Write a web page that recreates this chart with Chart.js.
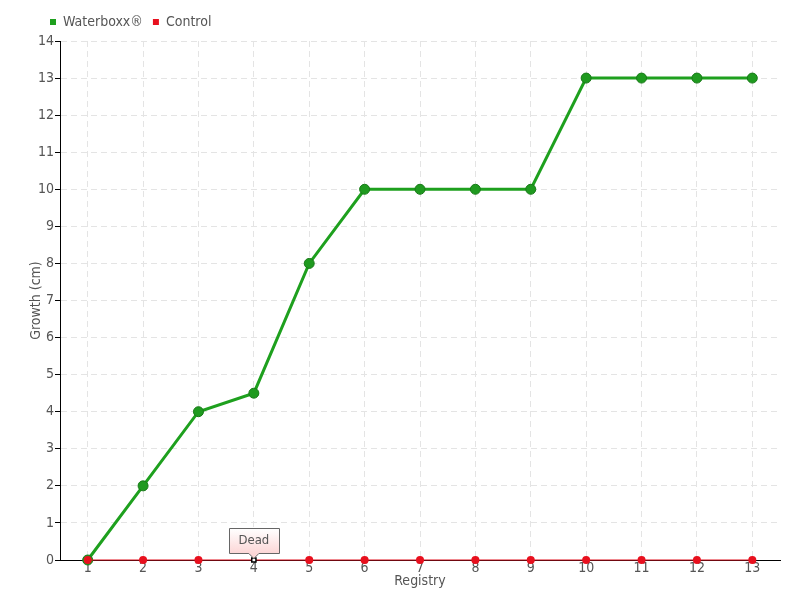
<!DOCTYPE html>
<html>
<head>
<meta charset="utf-8">
<script src="https://cdn.jsdelivr.net/npm/chart.js@4/dist/chart.umd.min.js"></script>
<style>
  html, body { margin: 0; padding: 0; background: #fff; }
  #wrap { width: 800px; height: 600px; }
</style>
</head>
<body>
<div id="wrap"><canvas id="chart" width="800" height="600"></canvas></div>
<script>
// data
const registries = ['1', '2', '3', '4', '5', '6', '7', '8', '9', '10', '11', '12', '13'];
const waterboxx = [0, 2, 4, 4.5, 8, 10, 10, 10, 10, 13, 13, 13, 13];
const control = [0, 0, 0, 0, 0, 0, 0, 0, 0, 0, 0, 0, 0];
const deadIndex = 3; // 'Dead' note on control at registry 4

const FONT = '"DejaVu Sans Condensed", "Liberation Sans Narrow", sans-serif';
const TEXT = '#555';

// control point styles, the dead one is a small white square
const controlStyle = control.map((_, i) => i === deadIndex ? 'rect' : 'circle');
const controlFill = control.map((_, i) => i === deadIndex ? '#fff' : '#e8101e');
const controlBorder = control.map((_, i) => i === deadIndex ? '#000' : '#e8101e');
const controlRadius = control.map((_, i) => i === deadIndex ? 3 : 4);
const controlBorderW = control.map((_, i) => i === deadIndex ? 1.5 : 0);

// draw the 'Dead' callout above the marked point
const deadNote = {
  id: 'deadNote',
  afterDatasetsDraw(chart) {
    const ctx = chart.ctx;
    const x = chart.scales.x.getPixelForValue(deadIndex);
    const y = chart.scales.y.getPixelForValue(control[deadIndex]);
    const w = 50, h = 25;
    const left = Math.round(x - w / 2) + 0.5, top = Math.round(y - 32) + 0.5;
    ctx.save();
    const g = ctx.createLinearGradient(0, top, 0, top + h);
    g.addColorStop(0, '#fff');
    g.addColorStop(1, '#fcd6d6');
    ctx.beginPath();
    ctx.moveTo(left, top);
    ctx.lineTo(left + w, top);
    ctx.lineTo(left + w, top + h);
    ctx.lineTo(x + 5, top + h);
    ctx.lineTo(x, top + h + 5);
    ctx.lineTo(x - 5, top + h);
    ctx.lineTo(left, top + h);
    ctx.closePath();
    ctx.fillStyle = g;
    ctx.fill();
    ctx.strokeStyle = '#666';
    ctx.lineWidth = 1;
    ctx.stroke();
    ctx.fillStyle = TEXT;
    ctx.font = '13px ' + FONT;
    ctx.textAlign = 'center';
    ctx.textBaseline = 'middle';
    ctx.fillText('Dead', x, top + h / 2);
    ctx.restore();
  }
};

// nudge the legend to where it sits in the reference
const legendShift = {
  id: 'legendShift',
  afterLayout(chart) {
    if (chart.legend) {
      chart.legend.left += 12;
      chart.legend.top -= 2;
    }
  }
};

const ctx = document.getElementById('chart').getContext('2d');
myChart = new Chart(ctx, {
  type: 'line',
  data: {
    labels: registries,
    datasets: [{
      label: 'Waterboxx®',
      data: waterboxx,
      borderColor: '#1ea01e',
      backgroundColor: '#1ea01e',
      borderWidth: 3,
      pointRadius: 5,
      pointBackgroundColor: '#1f9a1f',
      pointBorderColor: '#187a18',
      pointBorderWidth: 1,
      clip: false,
      order: 1,
    }, {
      label: 'Control',
      data: control,
      borderColor: '#e0101e',
      backgroundColor: '#e8101e',
      borderWidth: 1,
      pointStyle: controlStyle,
      pointRadius: controlRadius,
      pointBackgroundColor: controlFill,
      pointBorderColor: controlBorder,
      pointBorderWidth: controlBorderW,
      clip: false,
      order: 0,
    }],
  },
  options: {
    responsive: false,
    animation: false,
    layout: { padding: { left: 28, right: 20, top: 7, bottom: 0 } },
    plugins: {
      tooltip: { enabled: false },
      legend: {
        align: 'start',
        labels: {
          usePointStyle: true,
          boxWidth: 6,
          boxHeight: 6,
          padding: 10,
          color: TEXT,
          font: { family: FONT, size: 14 },
          generateLabels(chart) {
            return chart.data.datasets.map((d, i) => ({
              text: d.label,
              fillStyle: i === 0 ? '#1ea01e' : '#e8101e',
              strokeStyle: i === 0 ? '#1ea01e' : '#e8101e',
              lineWidth: 0,
              pointStyle: 'rect',
              datasetIndex: i,
              fontColor: TEXT,
            }));
          },
        },
      },
    },
    scales: {
      x: {
        offset: true,
        afterFit(scale) { scale.height = 40; },
        title: { display: true, text: 'Registry', color: TEXT, font: { family: FONT, size: 14 }, padding: { top: 0, bottom: 10 } },
        grid: { offset: false, color: '#e4e4e4', drawTicks: false },
        border: { color: '#000', width: 1, dash: [6, 4] },
        ticks: { color: TEXT, font: { family: FONT, size: 14 }, padding: 0, maxRotation: 0 },
      },
      y: {
        min: 0,
        max: 14,
        afterFit(scale) { scale.width = 32; },
        title: { display: true, text: 'Growth (cm)', color: TEXT, font: { family: FONT, size: 14 }, padding: { top: 0, bottom: 0 } },
        grid: { color: '#e4e4e4', tickColor: '#000', tickLength: 5, tickBorderDash: [] },
        border: { color: '#000', width: 1, dash: [6, 4] },
        ticks: { stepSize: 1, color: TEXT, font: { family: FONT, size: 14 }, padding: 1 },
      },
    },
  },
  plugins: [deadNote, legendShift],
});
</script>
</body>
</html>
